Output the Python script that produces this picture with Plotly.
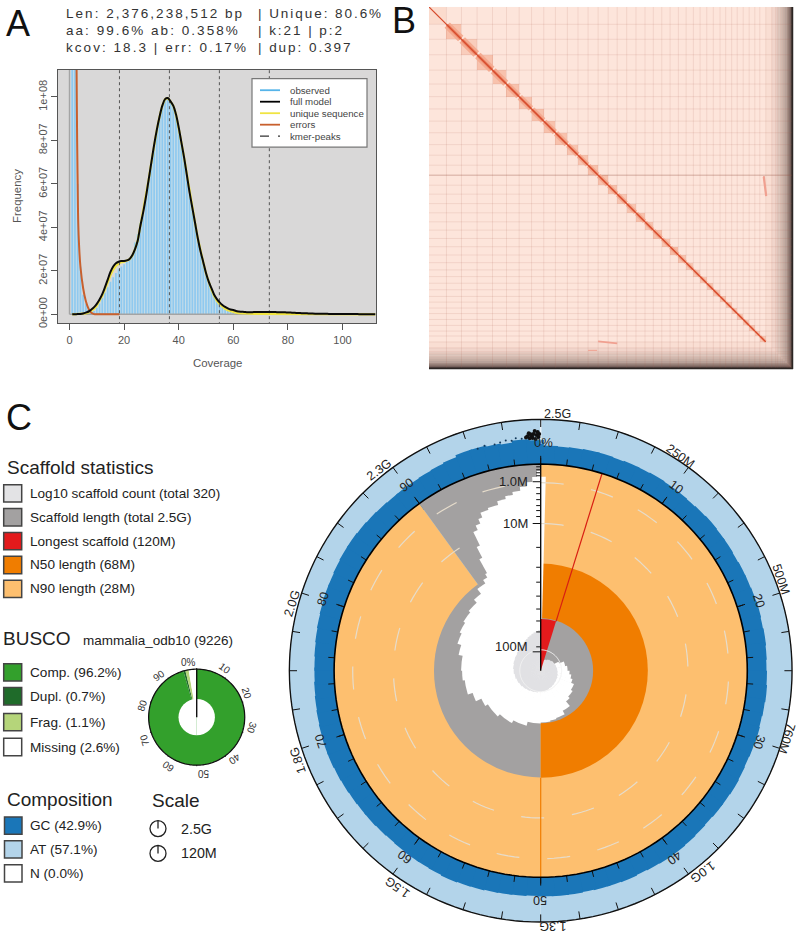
import math
import plotly.graph_objects as go

# ---------- A: k-mer profile (frequency in millions) ----------
coverage = list(range(1, 113))
observed = [300, 300, 60, 22, 9, 5, 3, 2, 1.5, 3, 5, 7.5, 10, 12.5, 15, 17, 19, 21, 22, 23,
            24.2, 25, 27, 33, 37, 42, 47, 54, 62, 70, 78, 85, 91, 96, 99, 99.5, 98, 95.5, 91.5, 85.5,
            78.5, 71.5, 63.5, 55.5, 48.5, 41.5, 34.5, 28.5, 23.5, 18.5, 14.5, 11.5, 8.5, 6.5, 5, 3.8, 3, 2.3, 1.9, 1.5,
            1.2, 1, .8, .7, .5, .4, .3, .2, .15, .1, .1, .1, .1, .1, .1, .1, .1, .1, .1, .1,
            .1, .1, .1, .1, .1, .1, .1, .1, .1, .1, .1, .1, .1, .1, .1, .1, .1, .1, .1, .1,
            .1, .1, .1, .1, .1, .1, .1, .1, .1, .1, .1, .1]
full_model = [0, .05, .1, .2, .4, .8, 1.3, 2.2, 3.3, 4.8, 6.8, 9.3, 12.5, 16, 19.5, 22, 23.5, 24.2, 24.5, 24.5,
              24.8, 25.5, 27.2, 30, 34, 41, 47, 54, 62, 70, 78, 85, 91, 96, 99, 99.5, 98, 96, 92, 86,
              79, 72, 64, 56, 49, 42, 35, 29, 24, 19, 15, 12, 9, 7, 5.5, 4.3, 3.4, 2.7, 2.2, 2,
              1.5, 1.3, 1.2, 1.1, 1, 1, 1, 1.05, 1.05, 1.05, 1.05, 1.05, 1.05, 1.05, 1.05, 1, 1, .95, .9, .85,
              .8, .7, .65, .6, .55, .5, .45, .4, .35, .3, .28, .26, .24, .22, .2, .18, .16, .15, .14, .13,
              .12, .12, .11, .1, .1, .09, .08, .08, .07, .06, .06, .05]
unique_seq = [0, .02, .05, .1, .2, .4, .8, 1.5, 2.5, 4, 6, 8.5, 11.5, 15, 18, 20.5, 22.3, 23.3, 24, 24.2,
              24.6, 25.3, 27, 30, 34, 41, 47, 54, 62, 70, 78, 85, 91, 96, 99, 99.5, 98, 96, 92, 86,
              79, 72, 64, 56, 49, 42, 35, 29, 24, 18.8, 14.6, 11.3, 8.4, 6.2, 4.7, 3.4, 2.5, 1.9, 1.4, 1,
              .7, .5, .4, .3, .25, .22, .2, .2, .2, .2, .2, .2, .2, .2, .2, .2, .2, .2, .18, .18,
              .16, .15, .14, .12, .12, .1, .1, .08, .08, .07, .06, .06, .05, .05, .04, .04, .03, .03, .03, .02,
              .02, .02, .02, .02, .01, .01, .01, .01, .01, .01, .01, .01]
error_cov = [2.5, 2.6, 2.8, 3, 3.2, 3.5, 4, 5, 6, 7, 8, 9, 10, 14, 18.3]
error_freq = [130, 112, 80, 60, 42, 32, 22, 12, 6, 2.5, .7, .1, 0, 0, 0]
kmer_peaks = [18.3, 36.6, 54.9, 73.2]
x_ticks = [0, 20, 40, 60, 80, 100]
y_ticks = [0, 20, 40, 60, 80, 100]
y_tick_text = ["0e+00", "2e+07", "4e+07", "6e+07", "8e+07", "1e+08"]
genome_lines = [("Len: 2,376,238,512 bp", "| Unique: 80.6%"),
                ("aa: 99.6% ab: 0.358%", "| k:21 | p:2"),
                ("kcov: 18.3 | err: 0.17%", "| dup: 0.397")]
legend_a = [("observed", "#56b4e9", "solid"), ("full model", "#000000", "solid"),
            ("unique sequence", "#f0e442", "solid"), ("errors", "#c8602e", "solid"),
            ("kmer-peaks", "#333333", "dash")]

# ---------- B: contact map (scaffold sizes in Mb) ----------
chrom_mb = [120, 103, 107, 106, 96, 87, 85, 84, 80, 82, 73, 69, 69, 69, 62, 65, 64, 62, 57, 58,
            57, 57, 53, 50, 46, 46, 45, 46, 39, 41, 38, 41, 41, 39, 34, 41]
block_level = [.52, .61, .57, .61, .61, .61, .60, .61, .61, .61, .60, .60, .61, .61, .61, .59, .60, .61,
               .60, .61, .60, .63, .60, .59, .58, .59, .59, .59, .59, .59, .58, .58, .58, .58, .58, .58]
small_mb = [41, 27, 14, 21, 14, 14, 14, 7, 7, 7, 7, 7, 7]
small_shade = [.05, .11, .16, .20, .24, .27, .30, .34, .37, .40, .43, .47, .50]
off_diag_x = [[2298, 2315], [1161, 1292], [1092, 1154]]
off_diag_y = [[1168, 1305], [2308, 2322], [2370, 2370]]
off_diag_w = [2.2, 1.6, 1]

# ---------- C: snail plot ----------
snail_cx, snail_cy, snail_R = 540.7, 674.3, 254
long_pct, n50_pct, n90_pct = 4.8, 50, 90
white_start = [0, 4.8, 9, 14, 17.5, 19, 22, 25, 27, 29, 31, 34, 37, 39, 42, 45, 47, 50, 54, 58, 62, 66, 68, 70, 73,
               75, 78, 80, 82, 84, 86, 88, 89.5, 91, 91.7, 92, 92.4, 92.8, 93.3, 93.8, 94.2, 95, 96, 96.8, 97.5,
               98.2, 98.8, 99.3, 99.7]
white_r = [8, 11, 13, 15, 20, 25, 27, 29, 31, 33, 36, 38, 40, 46, 50, 51, 52, 53, 57, 60, 63, 66, 72, 77, 79,
           80, 84, 88, 90, 92, 94, 98, 104, 108, 112, 128, 140, 155, 160, 165, 170, 172, 176, 179, 182,
           186, 190, 195, 201]
count_start = [0, 2, 4, 6, 8, 10, 13, 16, 19, 22, 25, 28, 31, 34, 37, 40, 43, 46, 49, 52, 55, 58, 61, 64, 67, 70,
               73, 76, 79, 82, 85, 87, 89, 91, 92, 93, 94, 95, 96, 97, 98, 99]
count_r = [9, 10, 11, 12, 13, 14, 14.7, 15.4, 16, 16.6, 17, 17.5, 18, 18.5, 19, 19.6, 20.2, 20.8, 21.5, 22, 22.6, 23.2, 24,
           24.8, 25.6, 26.4, 27.2, 27.8, 28.4, 29, 30, 31, 32, 33, 34, 35, 36, 37, 38, 39, 40, 41]
gc_outer = [226.5, 226, 226.5, 227, 227, 226.5, 227, 227, 227.5, 227, 227, 226.5, 227, 227.5, 227, 227, 226.5, 227, 227, 227.5,
            228, 227.5, 228, 227.5, 227, 227.5, 228, 227.5, 227, 227.5, 227, 226.5, 227, 227.5, 227, 227, 226.5, 227, 227.5, 228,
            228, 227.5, 227, 227.5, 227, 227, 226.5, 227, 227, 227, 226.5, 227, 227, 227.5, 228, 228.5, 229, 228.5, 228, 228,
            227.5, 227, 227.5, 228, 228, 228.5, 229, 229.5, 230, 230, 229.5, 229, 228.5, 228, 227.5, 227.5, 228, 228.5, 229, 229.5,
            230, 230, 230.5, 231, 231, 230.5, 230, 229.5, 229, 229, 229, 229.5, 230, 231, 233, 233, 232, 231, 233, 232]
noise_pct = [99.9, 99.8, 99.7, 99.6, 99.5, 99.4, 99.3, 99.2, 99.1, 99.0, 99.85, 99.65, 99.45, 99.25]
noise_r = [238, 240, 237, 241, 238, 236, 238, 239, 236, 235, 235, 233, 234, 234]
speck_pct = [98.7, 98.3, 98.0, 97.6, 97.2, 96.8, 96.1, 95.6]
speck_r = [234, 235, 233, 234, 233, 232, 233, 232]
radial_minor = [24, 39, 50, 62, 75, 89, 104, 124, 155, 161, 166, 172, 178, 184, 196, 199, 202, 205]
radial_major = [(19, "100M"), (148, "10M"), (190, "1.0M")]
inner_labels = ["10", "20", "30", "40", "50", "60", "70", "80", "90"]
inner_xy = [(675.7, 490), (759, 604), (759, 746), (674, 862), (540, 905), (405, 861), (321, 745), (323, 602), (407, 488)]
outer_labels = ["250M", "500M", "760M", "1.0G", "1.3G", "1.5G", "1.8G", "2.0G", "2.3G", "2.5G"]
outer_xy = [(680, 458), (781, 581.7), (787, 741.7), (703, 876), (552.7, 931), (398, 892), (298, 765), (292.7, 606.7), (379, 473), (557, 416)]
outer_angle = [36, 72, 108, 144, 180, 216, 252, 288, 324, 0]

# ---------- BUSCO ----------
busco_parts = [("Comp.", 96.2 - 0.7, "#33a02c"), ("Dupl.", 0.7, "#1f6b2a"), ("Frag.", 1.1, "#b5d57a"), ("Missing", 2.6, "#ffffff")]
busco_xy = [(188, 666), (225, 672), (247, 697), (252, 732), (234, 763), (203, 777), (168, 770), (144, 744), (142, 709), (159, 679)]
busco_text = ["0%", "10", "20", "30", "40", "50", "60", "70", "80", "90"]
busco_cx, busco_cy, busco_R = 196.7, 721, 49.5

# ---------- legends ----------
scaffold_rows = [("Log10 scaffold count (total 320)", "#e3e3e5", 496), ("Scaffold length (total 2.5G)", "#a3a1a1", 520),
                 ("Longest scaffold (120M)", "#e31a1c", 544), ("N50 length (68M)", "#f07d00", 568), ("N90 length (28M)", "#fdbf6f", 592)]
busco_rows = [("Comp. (96.2%)", "#33a02c", 676), ("Dupl. (0.7%)", "#1f6b2a", 700), ("Frag. (1.1%)", "#b5d57a", 726), ("Missing (2.6%)", "#ffffff", 751)]
comp_rows = [("GC (42.9%)", "#1a76b8", 830), ("AT (57.1%)", "#b3d4ea", 854), ("N (0.0%)", "#ffffff", 878)]
scale_rows = [("2.5G", 833), ("120M", 858)]

W, H = 800, 940
SANS = "Liberation Sans"
def px(x): return x / W
def py(y): return 1 - y / H

annotations, shapes = [], []
def T(x, y, text, size, color="#222222", anchor="left", angle=0, family=SANS):
    annotations.append(dict(x=px(x), y=py(y), xref="paper", yref="paper", text=text, showarrow=False,
                            xanchor=anchor, yanchor="middle", textangle=angle,
                            font=dict(size=size, color=color, family=family)))
def L(x0, y0, x1, y1, color="#000000", width=1, dash="solid"):
    shapes.append(dict(type="line", xref="paper", yref="paper", x0=px(x0), y0=py(y0), x1=px(x1), y1=py(y1),
                       line=dict(color=color, width=width, dash=dash)))
def R(x0, y0, x1, y1, fill, line="#444444", width=1.5):
    shapes.append(dict(type="rect", xref="paper", yref="paper", x0=px(x0), y0=py(y0), x1=px(x1), y1=py(y1),
                       fillcolor=fill, line=dict(color=line, width=width)))

fig = go.Figure()
skip = dict(hoverinfo="skip", showlegend=False)

# ===== Panel A =====
fig.add_trace(go.Scatter(x=[0] + coverage, y=[0] + observed, mode="lines", line=dict(width=0, shape="hvh"),
                         fill="tozeroy", fillcolor="#c6dde9", xaxis="x", yaxis="y", **skip))
stem_x, stem_y = [], []
for c, v in zip(coverage, observed):
    stem_x += [c, c, None]
    stem_y += [0, v, None]
fig.add_trace(go.Scatter(x=stem_x, y=stem_y, mode="lines", line=dict(color="#8fc9ef", width=1.7), xaxis="x", yaxis="y", **skip))
fig.add_trace(go.Scatter(x=[0, 0, None, 0, coverage[-1]], y=[0, 120, None, 0, 0], mode="lines",
                         line=dict(color="#a4a4a4", width=1.4), xaxis="x", yaxis="y", **skip))
fig.add_trace(go.Scatter(x=coverage, y=unique_seq, mode="lines", line=dict(color="#f0e442", width=2.2), xaxis="x", yaxis="y", **skip))
fig.add_trace(go.Scatter(x=error_cov, y=error_freq, mode="lines", line=dict(color="#c8602e", width=2, shape="spline"), xaxis="x", yaxis="y", **skip))
pk_x, pk_y = [], []
for p in kmer_peaks:
    pk_x += [p, p, None]
    pk_y += [-5, 120, None]
fig.add_trace(go.Scatter(x=pk_x, y=pk_y, mode="lines", line=dict(color="#555555", width=1, dash="3px,3px"), xaxis="x", yaxis="y", **skip))
fig.add_trace(go.Scatter(x=coverage, y=full_model, mode="lines", line=dict(color="#0a0a0a", width=2, shape="spline"), xaxis="x", yaxis="y", **skip))

A_X0, A_X1, A_Y0, A_Y1 = 58, 376, 70, 325
axis_font = dict(size=11, color="#555555", family=SANS)
x_scale, x_zero = 2.73, 69.5
y_scale, y_zero = 2.185, 316
R(252, 79, 367, 148, "#ffffff", "#777777", 1.2)
for i, (name, col, dash) in enumerate(legend_a):
    yy = 90.7 + i * 11.55
    L(260, yy, 280, yy, col, 1.8 if dash == "solid" else 1.2, dash)
    T(288, yy, name, 9.7, "#444444")
T(217, 365, "Coverage", 11.4, "#555555", "center")
T(17, 197, "Frequency", 11.4, "#555555", "center", -90)
def tracked(s, sp):
    return '<span style="letter-spacing:%.2fpx">%s</span>' % (sp, s)
for i, (c1, c2) in enumerate(genome_lines):
    T(64, 14 + i * 17, tracked(c1, 2.05), 13.5, "#333333")
    T(256, 14 + i * 17, tracked(c2, 1.95), 13.5, "#333333")
T(4, 24, "A", 36, "#111111")
T(390, 20.8, "B", 36, "#111111")
T(4, 420, "C", 36, "#111111")

# ===== Panel B =====
sizes = chrom_mb + small_mb
n_c = len(chrom_mb)
shade = [0] * n_c + small_shade
edges = [0]
for s in sizes:
    edges.append(edges[-1] + s)
z = []
for i in range(len(sizes)):
    row = []
    for j in range(len(sizes)):
        row.append(block_level[i] if (i == j and i < n_c) else max(shade[i], shade[j]))
    z.append(row)
cs = [[0, "#fde5db"], [.08, "#f6d9ce"], [.16, "#e8cfc5"], [.25, "#d0bbb1"], [.33, "#ab9a92"], [.42, "#7a6c67"], [.499, "#2a2524"],
      [.5, "#fce0d4"], [.6, "#f8c5b1"], [.7, "#f3a68c"], [1, "#e8603c"]]
fig.add_trace(go.Heatmap(x=edges, y=edges, z=z, colorscale=cs, zmin=0, zmax=1, showscale=False, hoverinfo="skip", xaxis="x2", yaxis="y2"))
gx, gy = [], []
for e in edges[1:-1]:
    gx += [e, e, None, 0, edges[-1], None]
    gy += [0, edges[-1], None, e, e, None]
fig.add_trace(go.Scatter(x=gx, y=gy, mode="lines", line=dict(color="rgba(170,95,75,0.13)", width=1), xaxis="x2", yaxis="y2", **skip))
strong = edges[13]
fig.add_trace(go.Scatter(x=[0, edges[-1]], y=[strong, strong], mode="lines", line=dict(color="rgba(150,85,70,0.3)", width=1), xaxis="x2", yaxis="y2", **skip))
mb_per_px = edges[-1] / 364
for i in range(n_c):
    s, e = edges[i], edges[i + 1]
    t = chrom_mb[i]
    if i == 0:
        continue
    fig.add_trace(go.Scatter(x=[s + .05 * t, e - .05 * t], y=[s + .05 * t, e - .05 * t], mode="lines",
                             line=dict(color="#f4ab91", width=t / mb_per_px * .5), xaxis="x2", yaxis="y2", **skip))
    fig.add_trace(go.Scatter(x=[s + .03 * t, e - .03 * t], y=[s + .03 * t, e - .03 * t], mode="lines",
                             line=dict(color="#ea7f60", width=t / mb_per_px * .2), xaxis="x2", yaxis="y2", **skip))
fig.add_trace(go.Scatter(x=[0, edges[n_c]], y=[0, edges[n_c]], mode="lines", line=dict(color="#d5492b", width=1.2), xaxis="x2", yaxis="y2", **skip))
for xs, ys, w in zip(off_diag_x, off_diag_y, off_diag_w):
    fig.add_trace(go.Scatter(x=xs, y=ys, mode="lines", line=dict(color="#f0a090", width=w), xaxis="x2", yaxis="y2", **skip))
L(792.5, 7, 792.5, 371, "#2b2523", 1.5)
L(429, 370.5, 793, 370.5, "#2b2523", 1.5)

# ===== Panel C: snail =====
def pct2deg(p): return p * 3.6
def bar(thetas, widths, r, base, color, subplot="polar", line=0):
    fig.add_trace(go.Barpolar(theta=thetas, width=widths, r=r, base=base, subplot=subplot,
                              marker=dict(color=color, line=dict(color=color if line else "rgba(0,0,0,0)", width=line)),
                              hoverinfo="skip", showlegend=False))
def stairs(starts, radii, color, lap):
    ends = starts[1:] + [100]
    th = [pct2deg((a + b) / 2) + lap / 2 for a, b in zip(starts, ends)]
    wd = [pct2deg(b - a) + lap for a, b in zip(starts, ends)]
    bar(th, wd, radii, [0] * len(radii), color)
bar([90, 270], [180, 180], [252.7, 252.7], [0, 0], "#b3d4ea")
gc_theta = [pct2deg(i + .5) + .4 for i in range(100)]
bar(gc_theta, [4.4] * 100, [v - 200 for v in gc_outer], [200] * 100, "#1a76b8")
R_INNER = 207.7
n90_deg, n50_deg, long_deg = pct2deg(n90_pct), pct2deg(n50_pct), pct2deg(long_pct)
bar([n90_deg / 2], [n90_deg], [R_INNER], [0], "#fdbf6f")
bar([(n90_deg + 360) / 2], [360 - n90_deg], [R_INNER], [0], "#a3a1a1")
bar([(n50_deg + n90_deg) / 2], [n90_deg - n50_deg], [107.3], [0], "#a3a1a1")
bar([n50_deg / 2], [n50_deg], [107.7], [0], "#f07d00")
bar([n50_deg / 2], [n50_deg], [52.7], [0], "#a3a1a1")
stairs(white_start[:-1], white_r[:-1], "#ffffff", 1.5)
bar([pct2deg((white_start[-1] + 100) / 2)], [pct2deg(100 - white_start[-1])], [white_r[-1]], [0], "#ffffff")
stairs(count_start[:-1], count_r[:-1], "#e1e1e4", 3)
bar([pct2deg((count_start[-1] + 100) / 2)], [pct2deg(100 - count_start[-1])], [count_r[-1]], [0], "#e1e1e4")
bar([long_deg / 2], [long_deg], [52], [0], "#e31a1c")

deg_all = list(range(0, 361, 2))
def pl(theta, r, color, width, dash="solid", mode="lines"):
    fig.add_trace(go.Scatterpolar(theta=theta, r=r, mode=mode, subplot="polar", line=dict(color=color, width=width, dash=dash), **skip))
cut148 = [d for d in deg_all if d <= pct2deg(92.6)]
cut190 = [d for d in deg_all if d <= pct2deg(98.6)]
pl(cut148, [148] * len(cut148), "#e6dccb", 1.2, "23px,28px")
pl(cut190, [189] * len(cut190), "#e6dccb", 1.2, "23px,28px")
pl(deg_all, [21] * len(deg_all), "#f4f4f4", 1)
pl([long_deg, long_deg], [52, R_INNER], "#d81e12", 1.2)
pl([180, 180], [107.7, R_INNER], "#f07d00", 1.2)
pl([0, 0], [228, 252], "#e8f2f8", 1.5)
def ticks(pcts, r0, r1):
    th, rr = [], []
    for p in pcts:
        d = pct2deg(p)
        th += [d, d, None]
        rr += [r0, r1, None]
    return th, rr
th, rr = ticks([i * 2.5 for i in range(40)], 245, 252.7)
pl(th, rr, "#111111", 1)
th, rr = ticks([i * 2 for i in range(50)], R_INNER, 214)
pl(th, rr, "#111111", 1)
th, rr = ticks([i * 10 for i in range(10)], R_INNER, 216)
pl(th, rr, "#111111", 1)
pl(deg_all, [R_INNER] * len(deg_all), "#000000", 1.6)
pl(deg_all, [252.7] * len(deg_all), "#111111", 1.4)
fig.add_trace(go.Scatterpolar(theta=[pct2deg(p) for p in noise_pct], r=noise_r, mode="markers", subplot="polar",
                              marker=dict(color="#111111", size=4), **skip))
fig.add_trace(go.Scatterpolar(theta=[pct2deg(p) for p in speck_pct], r=speck_r, mode="markers", subplot="polar",
                              marker=dict(color="#12385a", size=2), **skip))
# radial axis
L(snail_cx, snail_cy, snail_cx, snail_cy - R_INNER, "#000000", 1.3)
for r in radial_minor:
    L(snail_cx - 4.5, snail_cy - r, snail_cx, snail_cy - r, "#111111", 1)
for r, lab in radial_major:
    L(snail_cx - 8, snail_cy - r, snail_cx, snail_cy - r, "#111111", 1)
    T(snail_cx - 11, snail_cy - r - (0 if r > 100 else 5), lab, 13, "#222222", "right")
for lab, (x, y), a in zip(inner_labels, inner_xy, [36, 72, 108, 144, 180, 216, 252, 288, 324]):
    T(x, y, lab, 12.5, "#222222", "center", a)
for lab, (x, y), a in zip(outer_labels, outer_xy, outer_angle):
    T(x, y, lab, 12.5, "#222222", "center", a)
T(543, 445, "0%", 13, "#222222", "center")

# ===== BUSCO donut =====
start = 0
for name, v, col in busco_parts:
    bar([pct2deg(start + v / 2)], [pct2deg(v)], [48.3], [0], col, subplot="polar2")
    start += v
bar([90, 270], [180, 180], [18.3, 18.3], [0, 0], "#ffffff", subplot="polar2")
fig.add_trace(go.Scatterpolar(theta=deg_all, r=[48.3] * len(deg_all), mode="lines", subplot="polar2",
                              line=dict(color="#111111", width=1.3), **skip))
th, rr = ticks([i * 10 for i in range(10)], 48.3, 49.5)
fig.add_trace(go.Scatterpolar(theta=th, r=rr, mode="lines", subplot="polar2", line=dict(color="#111111", width=1), **skip))
fig.add_trace(go.Scatterpolar(theta=[0, 0], r=[0, 48.3], mode="lines", subplot="polar2", line=dict(color="#111111", width=1.4), **skip))
for i, (lab, (x, y)) in enumerate(zip(busco_text, busco_xy)):
    T(x, y, lab, 10, "#333333", "center", i * 36 if i else 0)

# ===== left legends =====
T(5, 470, "Scaffold statistics", 19)
for txt, col, y in scaffold_rows:
    R(3.7, y - 8.7, 21.7, y + 8.7, col)
    T(28, y, txt, 13.6)
T(1, 642, "BUSCO", 19)
T(81, 644, "mammalia_odb10 (9226)", 13.5)
for txt, col, y in busco_rows:
    R(3.7, y - 8.7, 21.7, y + 8.7, col)
    T(28, y, txt, 13.6)
T(5, 804, "Composition", 19)
for txt, col, y in comp_rows:
    R(4.5, y - 8.7, 22, y + 8.7, col)
    T(28, y, txt, 13.6)
T(150, 805, "Scale", 19)
for txt, y in scale_rows:
    shapes.append(dict(type="circle", xref="paper", yref="paper", x0=px(150), x1=px(166), y0=py(y + 8), y1=py(y - 8),
                       line=dict(color="#222222", width=1.3)))
    L(158, y, 158, y - 8, "#222222", 1.3)
    T(179, y, txt, 14.3)

fig.update_layout(
    width=W, height=H, autosize=False, margin=dict(l=0, r=0, t=0, b=0), paper_bgcolor="white", plot_bgcolor="#d9d8d8",
    showlegend=False, annotations=annotations, shapes=shapes, font=dict(family=SANS),
    xaxis=dict(domain=[px(A_X0), px(A_X1)], range=[(A_X0 - x_zero) / x_scale, (A_X1 - x_zero) / x_scale], tickvals=x_ticks,
               ticks="outside", ticklen=6, tickcolor="#555555", tickfont=axis_font, showgrid=False, zeroline=False,
               showline=True, mirror=True, linecolor="#555555", linewidth=1.2, anchor="y"),
    yaxis=dict(domain=[py(A_Y1), py(A_Y0)], range=[(y_zero - A_Y1) / y_scale, (y_zero - A_Y0) / y_scale], tickvals=y_ticks,
               ticktext=y_tick_text, tickangle=-90, ticks="outside", ticklen=6, tickcolor="#555555", tickfont=axis_font,
               showgrid=False, zeroline=False, showline=True, mirror=True, linecolor="#555555", linewidth=1.2, anchor="x"),
    xaxis2=dict(domain=[px(429), px(793)], range=[0, edges[-1]], visible=False, anchor="y2"),
    yaxis2=dict(domain=[py(371), py(7)], range=[edges[-1], 0], visible=False, anchor="x2"),
    polar=dict(domain=dict(x=[px(snail_cx - snail_R), px(snail_cx + snail_R)], y=[py(snail_cy + snail_R), py(snail_cy - snail_R)]),
               bgcolor="rgba(0,0,0,0)", barmode="overlay",
               radialaxis=dict(range=[0, snail_R], visible=False),
               angularaxis=dict(direction="clockwise", rotation=90, visible=False)),
    polar2=dict(domain=dict(x=[px(busco_cx - busco_R), px(busco_cx + busco_R)], y=[py(busco_cy + busco_R), py(busco_cy - busco_R)]),
                bgcolor="rgba(0,0,0,0)", barmode="overlay",
                radialaxis=dict(range=[0, busco_R], visible=False),
                angularaxis=dict(direction="clockwise", rotation=90, visible=False)),
)
fig.write_html("out.html", config={"displayModeBar": False}, post_script="document.body.style.margin='0';")
